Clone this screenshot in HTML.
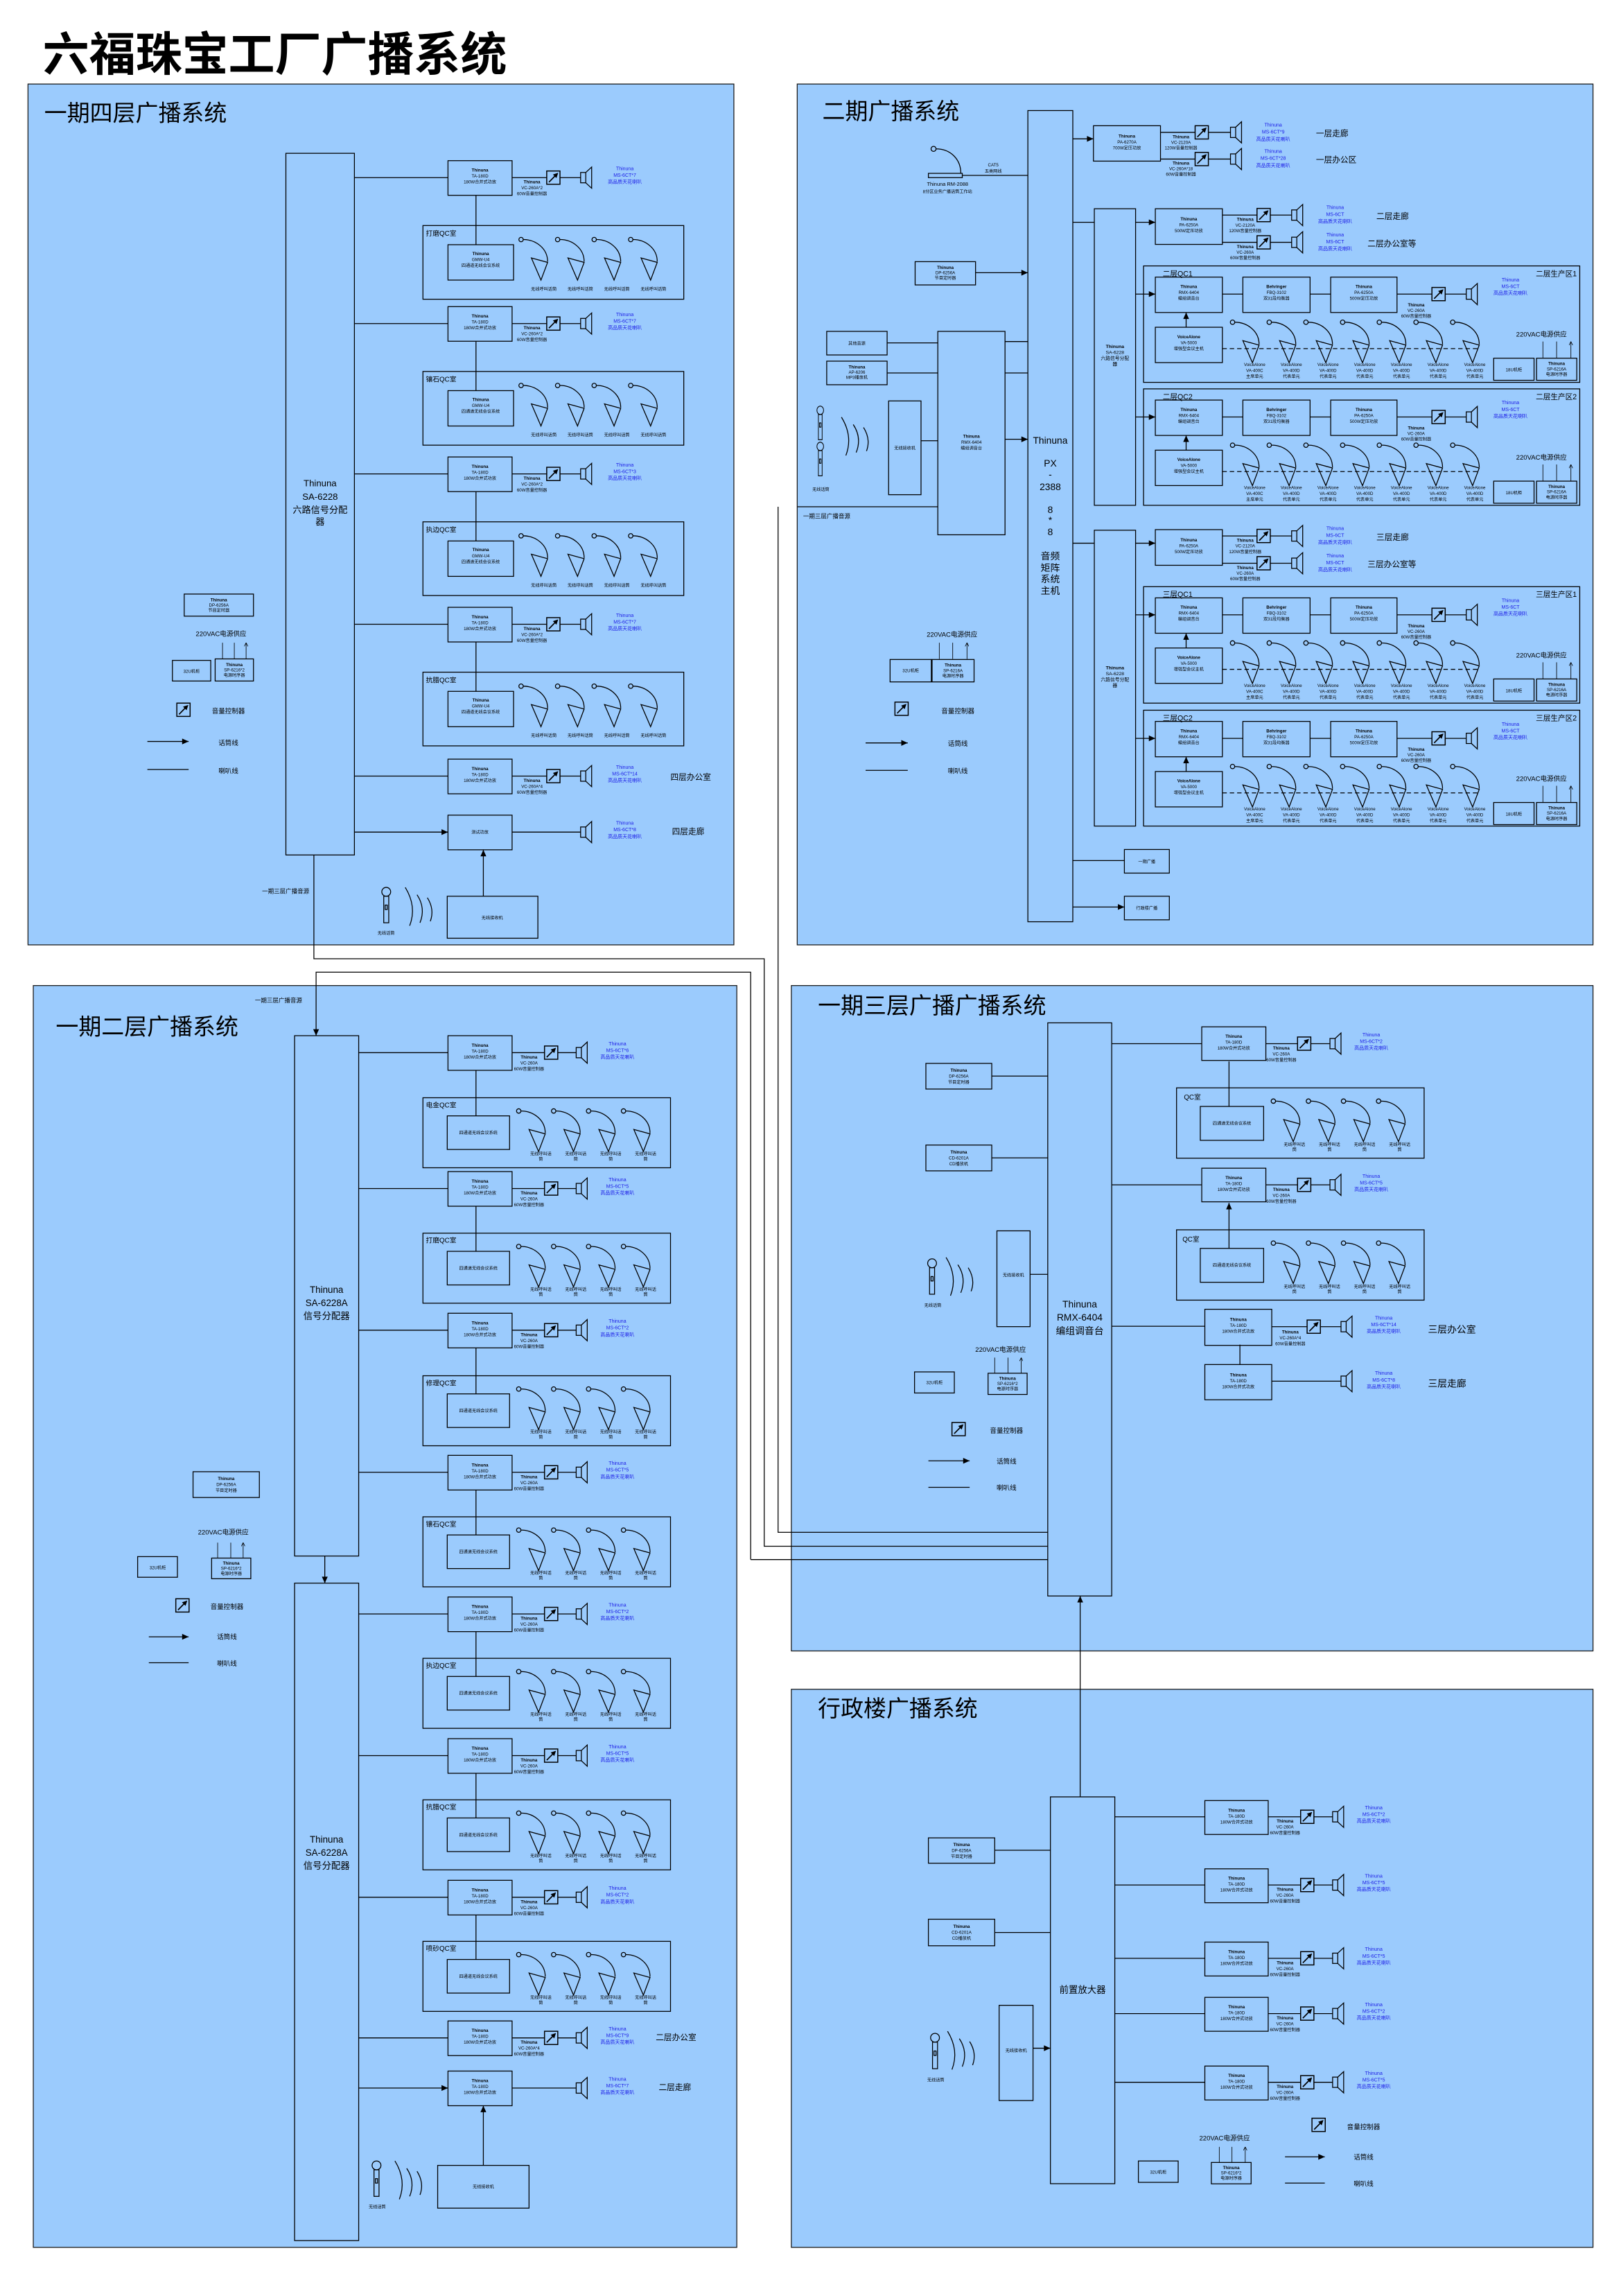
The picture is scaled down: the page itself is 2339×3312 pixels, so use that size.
<!DOCTYPE html>
<html><head><meta charset="utf-8">
<style>
html,body{margin:0;padding:0;background:#fff}
svg{display:block}
svg text{font-family:"Liberation Sans","Noto Sans CJK SC",sans-serif;text-anchor:middle;fill:#000}
.s{font-size:2.9px}
.bl{font-size:3.3px;fill:#1c1ce6}
.k{font-weight:bold}
.st{text-anchor:start}
.en{text-anchor:end}
.r{font-size:4.6px;text-anchor:start}
.lg{font-size:4.5px}
.zn{font-size:5.5px;text-anchor:start}
.pt{font-size:15.5px;text-anchor:start}
.b{fill:none;stroke:#000;stroke-width:.6}
.l{fill:none;stroke:#000;stroke-width:.6}
.ar{fill:none;stroke:#000;stroke-width:.6;marker-end:url(#a)}
.ar2{fill:none;stroke:#000;stroke-width:.4;marker-end:url(#a2)}
.p{fill:#9bcbfd;stroke:#1a1a1a;stroke-width:.6}
</style></head><body>
<svg width="2339" height="3312" viewBox="0 0 1100 1557.6" preserveAspectRatio="none" xmlns="http://www.w3.org/2000/svg">
<defs>
<marker id="a" viewBox="0 0 10 10" refX="10" refY="5" markerWidth="5" markerHeight="4.4" markerUnits="userSpaceOnUse" orient="auto"><path d="M0,0.5L10,5L0,9.5z"/></marker>
<marker id="a2" viewBox="0 0 10 10" refX="10" refY="5" markerWidth="2.5" markerHeight="2.5" markerUnits="userSpaceOnUse" orient="auto"><path d="M0,0L10,5L0,10" fill="none" stroke="#000" stroke-width="1.5"/></marker>
<g id="vc"><rect width="9" height="9" fill="none" stroke="#000" stroke-width=".7"/><path d="M1.5,7.6L6,3" stroke="#000" stroke-width=".8"/><path d="M7.8,1.2L4.2,2.4L6.6,4.8z"/></g>
<g id="spk" fill="none" stroke="#000" stroke-width=".6"><rect x="0" y="-3.5" width="3.5" height="7"/><path d="M3.5,-3.5L7.5,-7.2V7.2L3.5,3.5"/></g>
<g id="m" fill="none" stroke="#000" stroke-width=".6"><circle cx="0" cy="0" r="1.5"/><path d="M1.5,0C10,0 18,6 18,15"/><path d="M7,12.5L18,15.5L13.5,27.5z"/></g>
<g id="hm" fill="none" stroke="#000" stroke-width=".6"><circle cx="3.5" cy="3" r="3"/><rect x="1.8" y="6" width="3.4" height="18"/><rect x="2.8" y="12" width="1.4" height="3"/></g>
<g id="wv" fill="none" stroke="#000" stroke-width=".6"><path d="M0,0Q8,13 3,26"/><path d="M8,5Q14,14 10,24"/><path d="M15,7Q20,15 17,23"/></g>
</defs>

<text x="29" y="48" style="font-size:31.5px;text-anchor:start;font-weight:bold">六福珠宝工厂广播系统</text>

<!-- panels -->
<rect class="p" x="19" y="57" width="479" height="584"/>
<rect class="p" x="541" y="57" width="540" height="584"/>
<rect class="p" x="22.6" y="668.6" width="477.4" height="856"/>
<rect class="p" x="537" y="668.6" width="544" height="451.4"/>
<rect class="p" x="537" y="1146" width="544" height="378.6"/>

<!-- inter-panel lines -->
<path class="l" d="M213,580V650.4H518.6V1049H711"/>
<path class="l" d="M509.4,1058V659.5H214.5V702.6" style="marker-end:url(#a)"/>
<path class="l" d="M509.4,1058H711"/>
<path class="l" d="M528,343.8V1039.5H711"/>
<path class="ar" d="M733,1219V1082.7"/>

<!-- ================= PANEL 1 ================= -->
<text x="30" y="82" class="pt">一期四层广播系统</text>
<rect class="b" x="194" y="104" width="46.5" height="476"/>
<text x="217.2" y="330" style="font-size:6.2px">Thinuna</text>
<text x="217.2" y="339" style="font-size:6.2px">SA-6228</text>
<text x="217.2" y="348" style="font-size:6.2px">六路信号分配</text>
<text x="217.2" y="356" style="font-size:6.2px">器</text>

<path class="ar" d="M240.5,120.5H304M240.5,219.5H304M240.5,321.5H304M240.5,423.5H304M240.5,526.5H304M240.5,564.5H304"/>

<g transform="translate(304,109)"><rect class="b" width="43.5" height="23.5"/><text x="21.7" y="7.5" class="s k">Thinuna</text><text x="21.7" y="11.5" class="s">TA-180D</text><text x="21.7" y="15.5" class="s">180W合并式功放</text><path class="l" d="M43.5,11.5H67M76,11.5H90"/><use href="#vc" x="67" y="7"/><use href="#spk" x="90" y="11.5"/><text x="57" y="15.5" class="s k">Thinuna</text><text x="57" y="19.5" class="s">VC-260A*2</text><text x="57" y="23.5" class="s">60W音量控制器</text><text x="120" y="6.5" class="bl">Thinuna</text><text x="120" y="11" class="bl">MS-6CT*7</text><text x="120" y="15.5" class="bl">高品质天花喇叭</text></g>
<g transform="translate(304,208)"><rect class="b" width="43.5" height="23.5"/><text x="21.7" y="7.5" class="s k">Thinuna</text><text x="21.7" y="11.5" class="s">TA-180D</text><text x="21.7" y="15.5" class="s">180W合并式功放</text><path class="l" d="M43.5,11.5H67M76,11.5H90"/><use href="#vc" x="67" y="7"/><use href="#spk" x="90" y="11.5"/><text x="57" y="15.5" class="s k">Thinuna</text><text x="57" y="19.5" class="s">VC-260A*2</text><text x="57" y="23.5" class="s">60W音量控制器</text><text x="120" y="6.5" class="bl">Thinuna</text><text x="120" y="11" class="bl">MS-6CT*7</text><text x="120" y="15.5" class="bl">高品质天花喇叭</text></g>
<g transform="translate(304,310)"><rect class="b" width="43.5" height="23.5"/><text x="21.7" y="7.5" class="s k">Thinuna</text><text x="21.7" y="11.5" class="s">TA-180D</text><text x="21.7" y="15.5" class="s">180W合并式功放</text><path class="l" d="M43.5,11.5H67M76,11.5H90"/><use href="#vc" x="67" y="7"/><use href="#spk" x="90" y="11.5"/><text x="57" y="15.5" class="s k">Thinuna</text><text x="57" y="19.5" class="s">VC-260A*2</text><text x="57" y="23.5" class="s">60W音量控制器</text><text x="120" y="6.5" class="bl">Thinuna</text><text x="120" y="11" class="bl">MS-6CT*3</text><text x="120" y="15.5" class="bl">高品质天花喇叭</text></g>
<g transform="translate(304,412)"><rect class="b" width="43.5" height="23.5"/><text x="21.7" y="7.5" class="s k">Thinuna</text><text x="21.7" y="11.5" class="s">TA-180D</text><text x="21.7" y="15.5" class="s">180W合并式功放</text><path class="l" d="M43.5,11.5H67M76,11.5H90"/><use href="#vc" x="67" y="7"/><use href="#spk" x="90" y="11.5"/><text x="57" y="15.5" class="s k">Thinuna</text><text x="57" y="19.5" class="s">VC-260A*2</text><text x="57" y="23.5" class="s">60W音量控制器</text><text x="120" y="6.5" class="bl">Thinuna</text><text x="120" y="11" class="bl">MS-6CT*7</text><text x="120" y="15.5" class="bl">高品质天花喇叭</text></g>
<g transform="translate(304,515)"><rect class="b" width="43.5" height="23.5"/><text x="21.7" y="7.5" class="s k">Thinuna</text><text x="21.7" y="11.5" class="s">TA-180D</text><text x="21.7" y="15.5" class="s">180W合并式功放</text><path class="l" d="M43.5,11.5H67M76,11.5H90"/><use href="#vc" x="67" y="7"/><use href="#spk" x="90" y="11.5"/><text x="57" y="15.5" class="s k">Thinuna</text><text x="57" y="19.5" class="s">VC-260A*4</text><text x="57" y="23.5" class="s">60W音量控制器</text><text x="120" y="6.5" class="bl">Thinuna</text><text x="120" y="11" class="bl">MS-6CT*14</text><text x="120" y="15.5" class="bl">高品质天花喇叭</text><text x="151" y="14" class="zn">四层办公室</text></g>
<g transform="translate(304,553)"><rect class="b" width="43.5" height="23.5"/><text x="21.7" y="12.5" class="s">测试功放</text><path class="l" d="M43.5,11.5H90"/><use href="#spk" x="90" y="11.5"/><text x="120" y="6.5" class="bl">Thinuna</text><text x="120" y="11" class="bl">MS-6CT*8</text><text x="120" y="15.5" class="bl">高品质天花喇叭</text><text x="152" y="13" class="zn">四层走廊</text></g>

<g transform="translate(287,153)"><rect class="b" width="177" height="50"/><text x="2" y="7" class="r">打磨QC室</text><rect class="b" x="17" y="13" width="44.5" height="24"/><text x="39.2" y="20" class="s k">Thinuna</text><text x="39.2" y="24" class="s">GMW-U4</text><text x="39.2" y="28" class="s">四通道无线会议系统</text><use href="#m" x="66.6" y="9.5"/><use href="#m" x="91.4" y="9.5"/><use href="#m" x="116.2" y="9.5"/><use href="#m" x="141" y="9.5"/><text x="82" y="44" class="s">无线呼叫话筒</text><text x="106.8" y="44" class="s">无线呼叫话筒</text><text x="131.6" y="44" class="s">无线呼叫话筒</text><text x="156.4" y="44" class="s">无线呼叫话筒</text></g>
<g transform="translate(287,252)"><rect class="b" width="177" height="50"/><text x="2" y="7" class="r">镶石QC室</text><rect class="b" x="17" y="13" width="44.5" height="24"/><text x="39.2" y="20" class="s k">Thinuna</text><text x="39.2" y="24" class="s">GMW-U4</text><text x="39.2" y="28" class="s">四通道无线会议系统</text><use href="#m" x="66.6" y="9.5"/><use href="#m" x="91.4" y="9.5"/><use href="#m" x="116.2" y="9.5"/><use href="#m" x="141" y="9.5"/><text x="82" y="44" class="s">无线呼叫话筒</text><text x="106.8" y="44" class="s">无线呼叫话筒</text><text x="131.6" y="44" class="s">无线呼叫话筒</text><text x="156.4" y="44" class="s">无线呼叫话筒</text></g>
<g transform="translate(287,354)"><rect class="b" width="177" height="50"/><text x="2" y="7" class="r">执边QC室</text><rect class="b" x="17" y="13" width="44.5" height="24"/><text x="39.2" y="20" class="s k">Thinuna</text><text x="39.2" y="24" class="s">GMW-U4</text><text x="39.2" y="28" class="s">四通道无线会议系统</text><use href="#m" x="66.6" y="9.5"/><use href="#m" x="91.4" y="9.5"/><use href="#m" x="116.2" y="9.5"/><use href="#m" x="141" y="9.5"/><text x="82" y="44" class="s">无线呼叫话筒</text><text x="106.8" y="44" class="s">无线呼叫话筒</text><text x="131.6" y="44" class="s">无线呼叫话筒</text><text x="156.4" y="44" class="s">无线呼叫话筒</text></g>
<g transform="translate(287,456)"><rect class="b" width="177" height="50"/><text x="2" y="7" class="r">抗腊QC室</text><rect class="b" x="17" y="13" width="44.5" height="24"/><text x="39.2" y="20" class="s k">Thinuna</text><text x="39.2" y="24" class="s">GMW-U4</text><text x="39.2" y="28" class="s">四通道无线会议系统</text><use href="#m" x="66.6" y="9.5"/><use href="#m" x="91.4" y="9.5"/><use href="#m" x="116.2" y="9.5"/><use href="#m" x="141" y="9.5"/><text x="82" y="44" class="s">无线呼叫话筒</text><text x="106.8" y="44" class="s">无线呼叫话筒</text><text x="131.6" y="44" class="s">无线呼叫话筒</text><text x="156.4" y="44" class="s">无线呼叫话筒</text></g>
<path class="ar" d="M323,166V132.5M323,265V231.5M323,367V333.5M323,469V435.5M328,608V576.5"/>

<rect class="b" x="303.5" y="608" width="61.5" height="28.5"/><text x="334" y="623.5" class="s">无线接收机</text>
<use href="#hm" x="258.6" y="602"/><use href="#wv" x="275" y="602"/>
<text x="262" y="634" class="s">无线话筒</text>
<text x="209.8" y="606" class="lg en" style="font-size:4px">一期三层广播音源</text>

<rect class="b" x="125" y="403" width="47" height="15"/><text x="148.5" y="408" class="s k">Thinuna</text><text x="148.5" y="411.5" class="s">DP-6256A</text><text x="148.5" y="415" class="s">节目定时器</text>
<text x="150" y="431.5" class="lg">220VAC电源供应</text>
<path class="ar2" d="M151,447V436M159,447V436M167,447V436"/>
<rect class="b" x="117" y="448" width="26" height="14"/><text x="130" y="456.5" class="s">32U机柜</text>
<rect class="b" x="146" y="447" width="26" height="15"/><text x="159" y="452" class="s k">Thinuna</text><text x="159" y="455.5" class="s">SP-6216*2</text><text x="159" y="459" class="s">电源时序器</text>
<use href="#vc" x="120" y="477"/><text x="155" y="484" class="lg">音量控制器</text>
<path class="ar" d="M100,503H128"/><text x="155" y="505.5" class="lg">话筒线</text>
<path class="l" d="M100,522H128"/><text x="155" y="524.5" class="lg">喇叭线</text>

<!-- ================= PANEL 2 ================= -->
<text x="558" y="81" class="pt">二期广播系统</text>
<rect class="b" x="697.5" y="75" width="30.5" height="550.3"/>
<g style="font-size:6.5px"><text x="712.7" y="301">Thinuna</text><text x="712.7" y="316.5">PX</text><text x="712.7" y="324">-</text><text x="712.7" y="332.5">2388</text><text x="712.7" y="348">8</text><text x="712.7" y="355">*</text><text x="712.7" y="363">8</text><text x="712.7" y="379.5">音频</text><text x="712.7" y="387.5">矩阵</text><text x="712.7" y="395">系统</text><text x="712.7" y="403">主机</text></g>

<rect class="b" x="630" y="117.6" width="23" height="2.9"/>
<circle cx="633.5" cy="101" r="1.7" fill="none" stroke="#000" stroke-width=".6"/><path class="l" d="M635.2,101C645,101 652,108 652,117.6"/>
<text x="643" y="126" style="font-size:3.5px">Thinuna RM-2088</text><text x="643" y="131" class="s">8分区业务广播话筒工作站</text>
<text x="674" y="112.8" class="s">CAT5</text><text x="674" y="117" class="s">五类网线</text>
<path class="l" d="M653,119H697.5"/>

<rect class="b" x="621" y="177.5" width="41" height="15.8"/><text x="641.5" y="182.5" class="s k">Thinuna</text><text x="641.5" y="186" class="s">DP-6256A</text><text x="641.5" y="189.5" class="s">节目定时器</text>
<path class="ar" d="M662,185H697.5"/>
<rect class="b" x="561" y="224.8" width="41" height="16"/><text x="581.5" y="234" class="s">其他音源</text>
<rect class="b" x="561" y="245" width="41" height="16"/><text x="581.5" y="250" class="s k">Thinuna</text><text x="581.5" y="253.5" class="s">AP-6206</text><text x="581.5" y="257" class="s">MP3播放机</text>
<path class="ar" d="M602,232.6H636.4M602,253H636.4M625,299H636.4M541,343.8H636.4M682,231.7H697.5M682,253H697.5M682,298H697.5"/>
<rect class="b" x="636.4" y="224.8" width="45.6" height="138"/><text x="659.2" y="297" class="s k">Thinuna</text><text x="659.2" y="301" class="s">RMX-6404</text><text x="659.2" y="305" class="s">编组调音台</text>
<rect class="b" x="603" y="272" width="22" height="63.6"/><text x="614" y="305" class="s">无线接收机</text>
<use href="#hm" x="554" y="275.5" transform="translate(554,275.5) scale(.75,.95) translate(-554,-275.5)"/>
<use href="#hm" x="554" y="300" transform="translate(554,300) scale(.75,.95) translate(-554,-300)"/>
<use href="#wv" x="571" y="283"/>
<text x="557" y="333" class="s">无线话筒</text>
<text x="545" y="351.5" class="st" style="font-size:4px">一期三层广播音源</text>

<path class="ar" d="M728,94.2H742"/>
<g transform="translate(742,85.3)"><rect class="b" width="45.5" height="24"/><text x="22.7" y="8" class="s k">Thinuna</text><text x="22.7" y="12" class="s">PA-6270A</text><text x="22.7" y="16" class="s">700W定压功放</text><path class="l" d="M45.5,4.5H69M78,4.5H93M45.5,22.6H69M78,22.6H93"/><use href="#vc" x="69" y="0"/><use href="#vc" x="69" y="18.1"/><use href="#spk" x="93" y="4.5"/><use href="#spk" x="93" y="22.6"/><text x="59.4" y="8.5" class="s k">Thinuna</text><text x="59.4" y="12.3" class="s">VC-2120A</text><text x="59.4" y="16.1" class="s">120W音量控制器</text><text x="59.4" y="26.3" class="s k">Thinuna</text><text x="59.4" y="30.1" class="s">VC-260A*18</text><text x="59.4" y="33.9" class="s">60W音量控制器</text><text x="122" y="0.5" class="bl">Thinuna</text><text x="122" y="5.3" class="bl">MS-6CT*9</text><text x="122" y="10.1" class="bl">高品质天花喇叭</text><text x="122" y="18.4" class="bl">Thinuna</text><text x="122" y="23.2" class="bl">MS-6CT*28</text><text x="122" y="28" class="bl">高品质天花喇叭</text><text x="151" y="7" class="zn">一层走廊</text><text x="151" y="25" class="zn">一层办公区</text></g>

<path class="ar" d="M728,150.8H742.6M728,368.5H742.6M728,583.8H763M728,615.3H763"/>
<rect class="b" x="742.6" y="141.6" width="28" height="201.2"/>
<text x="756.6" y="236" style="font-size:3.2px" class="k">Thinuna</text><text x="756.6" y="240" style="font-size:3.2px">SA-6228</text><text x="756.6" y="244" style="font-size:3.2px">六路信号分配</text><text x="756.6" y="248" style="font-size:3.2px">器</text>
<rect class="b" x="742.6" y="359.7" width="28" height="200.7"/>
<text x="756.6" y="454" style="font-size:3.2px" class="k">Thinuna</text><text x="756.6" y="458" style="font-size:3.2px">SA-6228</text><text x="756.6" y="462" style="font-size:3.2px">六路信号分配</text><text x="756.6" y="466" style="font-size:3.2px">器</text>

<g transform="translate(784,141.6)"><path class="ar" d="M-13.5,9.2H0"/><rect class="b" width="45.5" height="24.2"/><text x="22.7" y="8" class="s k">Thinuna</text><text x="22.7" y="12" class="s">PA-6250A</text><text x="22.7" y="16" class="s">500W定压功放</text><path class="l" d="M45.5,4.3H69M78,4.3H92.5M45.5,22.8H69M78,22.8H92.5"/><use href="#vc" x="69" y="-0.2"/><use href="#vc" x="69" y="18.3"/><use href="#spk" x="92.5" y="4.3"/><use href="#spk" x="92.5" y="22.8"/><text x="61" y="8.3" class="s k">Thinuna</text><text x="61" y="12.1" class="s">VC-2120A</text><text x="61" y="15.9" class="s">120W音量控制器</text><text x="61" y="26.8" class="s k">Thinuna</text><text x="61" y="30.6" class="s">VC-260A</text><text x="61" y="34.4" class="s">60W音量控制器</text><text x="122" y="0.3" class="bl">Thinuna</text><text x="122" y="5" class="bl">MS-6CT</text><text x="122" y="9.7" class="bl">高品质天花喇叭</text><text x="122" y="18.8" class="bl">Thinuna</text><text x="122" y="23.5" class="bl">MS-6CT</text><text x="122" y="28.2" class="bl">高品质天花喇叭</text><text x="150" y="7" class="zn">二层走廊</text><text x="144" y="25.5" class="zn">二层办公室等</text></g>
<g transform="translate(784,359.3)"><path class="ar" d="M-13.5,9.2H0"/><rect class="b" width="45.5" height="24.2"/><text x="22.7" y="8" class="s k">Thinuna</text><text x="22.7" y="12" class="s">PA-6250A</text><text x="22.7" y="16" class="s">500W定压功放</text><path class="l" d="M45.5,4.3H69M78,4.3H92.5M45.5,22.8H69M78,22.8H92.5"/><use href="#vc" x="69" y="-0.2"/><use href="#vc" x="69" y="18.3"/><use href="#spk" x="92.5" y="4.3"/><use href="#spk" x="92.5" y="22.8"/><text x="61" y="8.3" class="s k">Thinuna</text><text x="61" y="12.1" class="s">VC-2120A</text><text x="61" y="15.9" class="s">120W音量控制器</text><text x="61" y="26.8" class="s k">Thinuna</text><text x="61" y="30.6" class="s">VC-260A</text><text x="61" y="34.4" class="s">60W音量控制器</text><text x="122" y="0.3" class="bl">Thinuna</text><text x="122" y="5" class="bl">MS-6CT</text><text x="122" y="9.7" class="bl">高品质天花喇叭</text><text x="122" y="18.8" class="bl">Thinuna</text><text x="122" y="23.5" class="bl">MS-6CT</text><text x="122" y="28.2" class="bl">高品质天花喇叭</text><text x="150" y="7" class="zn">三层走廊</text><text x="144" y="25.5" class="zn">三层办公室等</text></g>

<!-- QC groups panel 2 -->
<g transform="translate(776,180.4)"><path class="ar" d="M-5.5,19.1H8"/><rect class="b" width="296" height="79"/><text x="13" y="7" class="st" style="font-size:5px">二层QC1</text><text x="294" y="7" class="en" style="font-size:5px">二层生产区1</text><rect class="b" x="8" y="7.6" width="45.5" height="24"/><text x="30.7" y="15" class="s k">Thinuna</text><text x="30.7" y="19" class="s">RMX-6404</text><text x="30.7" y="23" class="s">编组调音台</text><rect class="b" x="67.4" y="7.6" width="45.6" height="24"/><text x="90.2" y="15" class="s k">Behringer</text><text x="90.2" y="19" class="s">FBQ-3102</text><text x="90.2" y="23" class="s">双31段均衡器</text><rect class="b" x="127" y="7.6" width="45" height="24"/><text x="149.5" y="15" class="s k">Thinuna</text><text x="149.5" y="19" class="s">PA-6250A</text><text x="149.5" y="23" class="s">500W定压功放</text><path class="ar" d="M53.5,19.1H67.4M113,19.1H127M28.9,41.6V31.6"/><path class="l" d="M172,19.1H195.7M204.7,19.1H219"/><use href="#vc" x="195.7" y="14.6"/><use href="#spk" x="219" y="19.1"/><text x="185" y="27.5" class="s k">Thinuna</text><text x="185" y="31.3" class="s">VC-260A</text><text x="185" y="35.1" class="s">60W音量控制器</text><text x="249" y="10.5" class="bl">Thinuna</text><text x="249" y="15" class="bl">MS-6CT</text><text x="249" y="19.5" class="bl">高品质天花喇叭</text><rect class="b" x="8" y="41.6" width="45.5" height="24"/><text x="30.7" y="49" class="s k">VoiceAlone</text><text x="30.7" y="53" class="s">VA-5000</text><text x="30.7" y="57" class="s">增强型会议主机</text><path class="l" d="M53.5,56.1H228" stroke-dasharray="3,2"/><use href="#m" x="60.4" y="38.2"/><use href="#m" x="85.3" y="38.2"/><use href="#m" x="110.2" y="38.2"/><use href="#m" x="135.1" y="38.2"/><use href="#m" x="160" y="38.2"/><use href="#m" x="184.9" y="38.2"/><use href="#m" x="209.8" y="38.2"/><g class="s"><text x="75.4" y="68">VoiceAlone</text><text x="75.4" y="72">VA-400C</text><text x="75.4" y="76">主席单元</text><text x="100.3" y="68">VoiceAlone</text><text x="100.3" y="72">VA-400D</text><text x="100.3" y="76">代表单元</text><text x="125.2" y="68">VoiceAlone</text><text x="125.2" y="72">VA-400D</text><text x="125.2" y="76">代表单元</text><text x="150.1" y="68">VoiceAlone</text><text x="150.1" y="72">VA-400D</text><text x="150.1" y="76">代表单元</text><text x="175" y="68">VoiceAlone</text><text x="175" y="72">VA-400D</text><text x="175" y="76">代表单元</text><text x="199.9" y="68">VoiceAlone</text><text x="199.9" y="72">VA-400D</text><text x="199.9" y="76">代表单元</text><text x="224.8" y="68">VoiceAlone</text><text x="224.8" y="72">VA-400D</text><text x="224.8" y="76">代表单元</text></g><text x="270" y="48" class="lg">220VAC电源供应</text><path class="ar2" d="M271,62.6V51.3M280.3,62.6V51.3M290,62.6V51.3"/><rect class="b" x="237.6" y="62.6" width="27.4" height="15"/><text x="251.3" y="71.5" class="s">18U机柜</text><rect class="b" x="266.7" y="62.6" width="27.3" height="15"/><text x="280.3" y="67.3" class="s k">Thinuna</text><text x="280.3" y="70.9" class="s">SP-6216A</text><text x="280.3" y="74.5" class="s">电源时序器</text></g>
<g transform="translate(776,263.8)"><path class="ar" d="M-5.5,19.1H8"/><rect class="b" width="296" height="79"/><text x="13" y="7" class="st" style="font-size:5px">二层QC2</text><text x="294" y="7" class="en" style="font-size:5px">二层生产区2</text><rect class="b" x="8" y="7.6" width="45.5" height="24"/><text x="30.7" y="15" class="s k">Thinuna</text><text x="30.7" y="19" class="s">RMX-6404</text><text x="30.7" y="23" class="s">编组调音台</text><rect class="b" x="67.4" y="7.6" width="45.6" height="24"/><text x="90.2" y="15" class="s k">Behringer</text><text x="90.2" y="19" class="s">FBQ-3102</text><text x="90.2" y="23" class="s">双31段均衡器</text><rect class="b" x="127" y="7.6" width="45" height="24"/><text x="149.5" y="15" class="s k">Thinuna</text><text x="149.5" y="19" class="s">PA-6250A</text><text x="149.5" y="23" class="s">500W定压功放</text><path class="ar" d="M53.5,19.1H67.4M113,19.1H127M28.9,41.6V31.6"/><path class="l" d="M172,19.1H195.7M204.7,19.1H219"/><use href="#vc" x="195.7" y="14.6"/><use href="#spk" x="219" y="19.1"/><text x="185" y="27.5" class="s k">Thinuna</text><text x="185" y="31.3" class="s">VC-260A</text><text x="185" y="35.1" class="s">60W音量控制器</text><text x="249" y="10.5" class="bl">Thinuna</text><text x="249" y="15" class="bl">MS-6CT</text><text x="249" y="19.5" class="bl">高品质天花喇叭</text><rect class="b" x="8" y="41.6" width="45.5" height="24"/><text x="30.7" y="49" class="s k">VoiceAlone</text><text x="30.7" y="53" class="s">VA-5000</text><text x="30.7" y="57" class="s">增强型会议主机</text><path class="l" d="M53.5,56.1H228" stroke-dasharray="3,2"/><use href="#m" x="60.4" y="38.2"/><use href="#m" x="85.3" y="38.2"/><use href="#m" x="110.2" y="38.2"/><use href="#m" x="135.1" y="38.2"/><use href="#m" x="160" y="38.2"/><use href="#m" x="184.9" y="38.2"/><use href="#m" x="209.8" y="38.2"/><g class="s"><text x="75.4" y="68">VoiceAlone</text><text x="75.4" y="72">VA-400C</text><text x="75.4" y="76">主席单元</text><text x="100.3" y="68">VoiceAlone</text><text x="100.3" y="72">VA-400D</text><text x="100.3" y="76">代表单元</text><text x="125.2" y="68">VoiceAlone</text><text x="125.2" y="72">VA-400D</text><text x="125.2" y="76">代表单元</text><text x="150.1" y="68">VoiceAlone</text><text x="150.1" y="72">VA-400D</text><text x="150.1" y="76">代表单元</text><text x="175" y="68">VoiceAlone</text><text x="175" y="72">VA-400D</text><text x="175" y="76">代表单元</text><text x="199.9" y="68">VoiceAlone</text><text x="199.9" y="72">VA-400D</text><text x="199.9" y="76">代表单元</text><text x="224.8" y="68">VoiceAlone</text><text x="224.8" y="72">VA-400D</text><text x="224.8" y="76">代表单元</text></g><text x="270" y="48" class="lg">220VAC电源供应</text><path class="ar2" d="M271,62.6V51.3M280.3,62.6V51.3M290,62.6V51.3"/><rect class="b" x="237.6" y="62.6" width="27.4" height="15"/><text x="251.3" y="71.5" class="s">18U机柜</text><rect class="b" x="266.7" y="62.6" width="27.3" height="15"/><text x="280.3" y="67.3" class="s k">Thinuna</text><text x="280.3" y="70.9" class="s">SP-6216A</text><text x="280.3" y="74.5" class="s">电源时序器</text></g>
<g transform="translate(776,398)"><path class="ar" d="M-5.5,19.1H8"/><rect class="b" width="296" height="79"/><text x="13" y="7" class="st" style="font-size:5px">三层QC1</text><text x="294" y="7" class="en" style="font-size:5px">三层生产区1</text><rect class="b" x="8" y="7.6" width="45.5" height="24"/><text x="30.7" y="15" class="s k">Thinuna</text><text x="30.7" y="19" class="s">RMX-6404</text><text x="30.7" y="23" class="s">编组调音台</text><rect class="b" x="67.4" y="7.6" width="45.6" height="24"/><text x="90.2" y="15" class="s k">Behringer</text><text x="90.2" y="19" class="s">FBQ-3102</text><text x="90.2" y="23" class="s">双31段均衡器</text><rect class="b" x="127" y="7.6" width="45" height="24"/><text x="149.5" y="15" class="s k">Thinuna</text><text x="149.5" y="19" class="s">PA-6250A</text><text x="149.5" y="23" class="s">500W定压功放</text><path class="ar" d="M53.5,19.1H67.4M113,19.1H127M28.9,41.6V31.6"/><path class="l" d="M172,19.1H195.7M204.7,19.1H219"/><use href="#vc" x="195.7" y="14.6"/><use href="#spk" x="219" y="19.1"/><text x="185" y="27.5" class="s k">Thinuna</text><text x="185" y="31.3" class="s">VC-260A</text><text x="185" y="35.1" class="s">60W音量控制器</text><text x="249" y="10.5" class="bl">Thinuna</text><text x="249" y="15" class="bl">MS-6CT</text><text x="249" y="19.5" class="bl">高品质天花喇叭</text><rect class="b" x="8" y="41.6" width="45.5" height="24"/><text x="30.7" y="49" class="s k">VoiceAlone</text><text x="30.7" y="53" class="s">VA-5000</text><text x="30.7" y="57" class="s">增强型会议主机</text><path class="l" d="M53.5,56.1H228" stroke-dasharray="3,2"/><use href="#m" x="60.4" y="38.2"/><use href="#m" x="85.3" y="38.2"/><use href="#m" x="110.2" y="38.2"/><use href="#m" x="135.1" y="38.2"/><use href="#m" x="160" y="38.2"/><use href="#m" x="184.9" y="38.2"/><use href="#m" x="209.8" y="38.2"/><g class="s"><text x="75.4" y="68">VoiceAlone</text><text x="75.4" y="72">VA-400C</text><text x="75.4" y="76">主席单元</text><text x="100.3" y="68">VoiceAlone</text><text x="100.3" y="72">VA-400D</text><text x="100.3" y="76">代表单元</text><text x="125.2" y="68">VoiceAlone</text><text x="125.2" y="72">VA-400D</text><text x="125.2" y="76">代表单元</text><text x="150.1" y="68">VoiceAlone</text><text x="150.1" y="72">VA-400D</text><text x="150.1" y="76">代表单元</text><text x="175" y="68">VoiceAlone</text><text x="175" y="72">VA-400D</text><text x="175" y="76">代表单元</text><text x="199.9" y="68">VoiceAlone</text><text x="199.9" y="72">VA-400D</text><text x="199.9" y="76">代表单元</text><text x="224.8" y="68">VoiceAlone</text><text x="224.8" y="72">VA-400D</text><text x="224.8" y="76">代表单元</text></g><text x="270" y="48" class="lg">220VAC电源供应</text><path class="ar2" d="M271,62.6V51.3M280.3,62.6V51.3M290,62.6V51.3"/><rect class="b" x="237.6" y="62.6" width="27.4" height="15"/><text x="251.3" y="71.5" class="s">18U机柜</text><rect class="b" x="266.7" y="62.6" width="27.3" height="15"/><text x="280.3" y="67.3" class="s k">Thinuna</text><text x="280.3" y="70.9" class="s">SP-6216A</text><text x="280.3" y="74.5" class="s">电源时序器</text></g>
<g transform="translate(776,481.8)"><path class="ar" d="M-5.5,19.1H8"/><rect class="b" width="296" height="78.6"/><text x="13" y="7" class="st" style="font-size:5px">三层QC2</text><text x="294" y="7" class="en" style="font-size:5px">三层生产区2</text><rect class="b" x="8" y="7.6" width="45.5" height="24"/><text x="30.7" y="15" class="s k">Thinuna</text><text x="30.7" y="19" class="s">RMX-6404</text><text x="30.7" y="23" class="s">编组调音台</text><rect class="b" x="67.4" y="7.6" width="45.6" height="24"/><text x="90.2" y="15" class="s k">Behringer</text><text x="90.2" y="19" class="s">FBQ-3102</text><text x="90.2" y="23" class="s">双31段均衡器</text><rect class="b" x="127" y="7.6" width="45" height="24"/><text x="149.5" y="15" class="s k">Thinuna</text><text x="149.5" y="19" class="s">PA-6250A</text><text x="149.5" y="23" class="s">500W定压功放</text><path class="ar" d="M53.5,19.1H67.4M113,19.1H127M28.9,41.6V31.6"/><path class="l" d="M172,19.1H195.7M204.7,19.1H219"/><use href="#vc" x="195.7" y="14.6"/><use href="#spk" x="219" y="19.1"/><text x="185" y="27.5" class="s k">Thinuna</text><text x="185" y="31.3" class="s">VC-260A</text><text x="185" y="35.1" class="s">60W音量控制器</text><text x="249" y="10.5" class="bl">Thinuna</text><text x="249" y="15" class="bl">MS-6CT</text><text x="249" y="19.5" class="bl">高品质天花喇叭</text><rect class="b" x="8" y="41.6" width="45.5" height="24"/><text x="30.7" y="49" class="s k">VoiceAlone</text><text x="30.7" y="53" class="s">VA-5000</text><text x="30.7" y="57" class="s">增强型会议主机</text><path class="l" d="M53.5,56.1H228" stroke-dasharray="3,2"/><use href="#m" x="60.4" y="38.2"/><use href="#m" x="85.3" y="38.2"/><use href="#m" x="110.2" y="38.2"/><use href="#m" x="135.1" y="38.2"/><use href="#m" x="160" y="38.2"/><use href="#m" x="184.9" y="38.2"/><use href="#m" x="209.8" y="38.2"/><g class="s"><text x="75.4" y="68">VoiceAlone</text><text x="75.4" y="72">VA-400C</text><text x="75.4" y="76">主席单元</text><text x="100.3" y="68">VoiceAlone</text><text x="100.3" y="72">VA-400D</text><text x="100.3" y="76">代表单元</text><text x="125.2" y="68">VoiceAlone</text><text x="125.2" y="72">VA-400D</text><text x="125.2" y="76">代表单元</text><text x="150.1" y="68">VoiceAlone</text><text x="150.1" y="72">VA-400D</text><text x="150.1" y="76">代表单元</text><text x="175" y="68">VoiceAlone</text><text x="175" y="72">VA-400D</text><text x="175" y="76">代表单元</text><text x="199.9" y="68">VoiceAlone</text><text x="199.9" y="72">VA-400D</text><text x="199.9" y="76">代表单元</text><text x="224.8" y="68">VoiceAlone</text><text x="224.8" y="72">VA-400D</text><text x="224.8" y="76">代表单元</text></g><text x="270" y="48" class="lg">220VAC电源供应</text><path class="ar2" d="M271,62.6V51.3M280.3,62.6V51.3M290,62.6V51.3"/><rect class="b" x="237.6" y="62.6" width="27.4" height="15"/><text x="251.3" y="71.5" class="s">18U机柜</text><rect class="b" x="266.7" y="62.6" width="27.3" height="15"/><text x="280.3" y="67.3" class="s k">Thinuna</text><text x="280.3" y="70.9" class="s">SP-6216A</text><text x="280.3" y="74.5" class="s">电源时序器</text></g>

<rect class="b" x="763" y="576.3" width="30.5" height="16"/><text x="778.2" y="585.5" class="s">一期广播</text>
<rect class="b" x="763" y="608" width="30.5" height="16"/><text x="778.2" y="617" class="s">行政楼广播</text>

<text x="646" y="432" class="lg">220VAC电源供应</text>
<path class="ar2" d="M637.4,447V436M646.5,447V436M656.2,447V436"/>
<rect class="b" x="604" y="447.4" width="28" height="15.2"/><text x="618" y="456" class="s">32U机柜</text>
<rect class="b" x="632.5" y="447.4" width="28.5" height="15.2"/><text x="646.7" y="452.3" class="s k">Thinuna</text><text x="646.7" y="455.9" class="s">SP-6216A</text><text x="646.7" y="459.5" class="s">电源时序器</text>
<use href="#vc" x="607.3" y="476.3"/><text x="650" y="484" class="lg">音量控制器</text>
<path class="ar" d="M587.4,504H616"/><text x="650" y="506" class="lg">话筒线</text>
<path class="l" d="M587.4,522.6H616"/><text x="650" y="524.5" class="lg">喇叭线</text>

<!-- ================= PANEL 3 ================= -->
<text x="37.8" y="702" class="pt">一期二层广播系统</text>
<text x="205" y="680" class="en" style="font-size:4px">一期三层广播音源</text>
<rect class="b" x="199.9" y="702.6" width="43.5" height="353"/>
<text x="221.6" y="877" style="font-size:6.3px">Thinuna</text><text x="221.6" y="886" style="font-size:6.3px">SA-6228A</text><text x="221.6" y="895" style="font-size:6.3px">信号分配器</text>
<rect class="b" x="199.9" y="1074" width="43.5" height="446"/>
<text x="221.6" y="1250" style="font-size:6.3px">Thinuna</text><text x="221.6" y="1259" style="font-size:6.3px">SA-6228A</text><text x="221.6" y="1268" style="font-size:6.3px">信号分配器</text>
<path class="ar" d="M220.4,1055.5V1074"/>
<path class="ar" d="M243.4,714.1H304M243.4,806.3H304M243.4,902.4H304M243.4,998.8H304M243.4,1094.9H304M243.4,1191H304M243.4,1287.1H304M243.4,1382.5H304M243.4,1416.5H304"/>

<g transform="translate(304,702.6)"><rect class="b" width="43.5" height="23.5"/><text x="21.7" y="7.5" class="s k">Thinuna</text><text x="21.7" y="11.5" class="s">TA-180D</text><text x="21.7" y="15.5" class="s">180W合并式功放</text><path class="l" d="M43.5,11.5H65.5M74.5,11.5H87"/><use href="#vc" x="65.5" y="7"/><use href="#spk" x="87" y="11.5"/><text x="55" y="15.5" class="s k">Thinuna</text><text x="55" y="19.5" class="s">VC-260A</text><text x="55" y="23.5" class="s">60W音量控制器</text><text x="115" y="6.5" class="bl">Thinuna</text><text x="115" y="11" class="bl">MS-6CT*6</text><text x="115" y="15.5" class="bl">高品质天花喇叭</text></g>
<g transform="translate(304,794.8)"><rect class="b" width="43.5" height="23.5"/><text x="21.7" y="7.5" class="s k">Thinuna</text><text x="21.7" y="11.5" class="s">TA-180D</text><text x="21.7" y="15.5" class="s">180W合并式功放</text><path class="l" d="M43.5,11.5H65.5M74.5,11.5H87"/><use href="#vc" x="65.5" y="7"/><use href="#spk" x="87" y="11.5"/><text x="55" y="15.5" class="s k">Thinuna</text><text x="55" y="19.5" class="s">VC-260A</text><text x="55" y="23.5" class="s">60W音量控制器</text><text x="115" y="6.5" class="bl">Thinuna</text><text x="115" y="11" class="bl">MS-6CT*5</text><text x="115" y="15.5" class="bl">高品质天花喇叭</text></g>
<g transform="translate(304,890.9)"><rect class="b" width="43.5" height="23.5"/><text x="21.7" y="7.5" class="s k">Thinuna</text><text x="21.7" y="11.5" class="s">TA-180D</text><text x="21.7" y="15.5" class="s">180W合并式功放</text><path class="l" d="M43.5,11.5H65.5M74.5,11.5H87"/><use href="#vc" x="65.5" y="7"/><use href="#spk" x="87" y="11.5"/><text x="55" y="15.5" class="s k">Thinuna</text><text x="55" y="19.5" class="s">VC-260A</text><text x="55" y="23.5" class="s">60W音量控制器</text><text x="115" y="6.5" class="bl">Thinuna</text><text x="115" y="11" class="bl">MS-6CT*2</text><text x="115" y="15.5" class="bl">高品质天花喇叭</text></g>
<g transform="translate(304,987.3)"><rect class="b" width="43.5" height="23.5"/><text x="21.7" y="7.5" class="s k">Thinuna</text><text x="21.7" y="11.5" class="s">TA-180D</text><text x="21.7" y="15.5" class="s">180W合并式功放</text><path class="l" d="M43.5,11.5H65.5M74.5,11.5H87"/><use href="#vc" x="65.5" y="7"/><use href="#spk" x="87" y="11.5"/><text x="55" y="15.5" class="s k">Thinuna</text><text x="55" y="19.5" class="s">VC-260A</text><text x="55" y="23.5" class="s">60W音量控制器</text><text x="115" y="6.5" class="bl">Thinuna</text><text x="115" y="11" class="bl">MS-6CT*5</text><text x="115" y="15.5" class="bl">高品质天花喇叭</text></g>
<g transform="translate(304,1083.4)"><rect class="b" width="43.5" height="23.5"/><text x="21.7" y="7.5" class="s k">Thinuna</text><text x="21.7" y="11.5" class="s">TA-180D</text><text x="21.7" y="15.5" class="s">180W合并式功放</text><path class="l" d="M43.5,11.5H65.5M74.5,11.5H87"/><use href="#vc" x="65.5" y="7"/><use href="#spk" x="87" y="11.5"/><text x="55" y="15.5" class="s k">Thinuna</text><text x="55" y="19.5" class="s">VC-260A</text><text x="55" y="23.5" class="s">60W音量控制器</text><text x="115" y="6.5" class="bl">Thinuna</text><text x="115" y="11" class="bl">MS-6CT*2</text><text x="115" y="15.5" class="bl">高品质天花喇叭</text></g>
<g transform="translate(304,1179.5)"><rect class="b" width="43.5" height="23.5"/><text x="21.7" y="7.5" class="s k">Thinuna</text><text x="21.7" y="11.5" class="s">TA-180D</text><text x="21.7" y="15.5" class="s">180W合并式功放</text><path class="l" d="M43.5,11.5H65.5M74.5,11.5H87"/><use href="#vc" x="65.5" y="7"/><use href="#spk" x="87" y="11.5"/><text x="55" y="15.5" class="s k">Thinuna</text><text x="55" y="19.5" class="s">VC-260A</text><text x="55" y="23.5" class="s">60W音量控制器</text><text x="115" y="6.5" class="bl">Thinuna</text><text x="115" y="11" class="bl">MS-6CT*5</text><text x="115" y="15.5" class="bl">高品质天花喇叭</text></g>
<g transform="translate(304,1275.6)"><rect class="b" width="43.5" height="23.5"/><text x="21.7" y="7.5" class="s k">Thinuna</text><text x="21.7" y="11.5" class="s">TA-180D</text><text x="21.7" y="15.5" class="s">180W合并式功放</text><path class="l" d="M43.5,11.5H65.5M74.5,11.5H87"/><use href="#vc" x="65.5" y="7"/><use href="#spk" x="87" y="11.5"/><text x="55" y="15.5" class="s k">Thinuna</text><text x="55" y="19.5" class="s">VC-260A</text><text x="55" y="23.5" class="s">60W音量控制器</text><text x="115" y="6.5" class="bl">Thinuna</text><text x="115" y="11" class="bl">MS-6CT*2</text><text x="115" y="15.5" class="bl">高品质天花喇叭</text></g>
<g transform="translate(304,1371)"><rect class="b" width="43.5" height="23.5"/><text x="21.7" y="7.5" class="s k">Thinuna</text><text x="21.7" y="11.5" class="s">TA-180D</text><text x="21.7" y="15.5" class="s">180W合并式功放</text><path class="l" d="M43.5,11.5H65.5M74.5,11.5H87"/><use href="#vc" x="65.5" y="7"/><use href="#spk" x="87" y="11.5"/><text x="55" y="15.5" class="s k">Thinuna</text><text x="55" y="19.5" class="s">VC-260A*4</text><text x="55" y="23.5" class="s">60W音量控制器</text><text x="115" y="6.5" class="bl">Thinuna</text><text x="115" y="11" class="bl">MS-6CT*9</text><text x="115" y="15.5" class="bl">高品质天花喇叭</text><text x="141" y="13" class="zn">二层办公室</text></g>
<g transform="translate(304,1405)"><rect class="b" width="43.5" height="23.5"/><text x="21.7" y="7.5" class="s k">Thinuna</text><text x="21.7" y="11.5" class="s">TA-180D</text><text x="21.7" y="15.5" class="s">180W合并式功放</text><path class="l" d="M43.5,11.5H87"/><use href="#spk" x="87" y="11.5"/><text x="115" y="6.5" class="bl">Thinuna</text><text x="115" y="11" class="bl">MS-6CT*7</text><text x="115" y="15.5" class="bl">高品质天花喇叭</text><text x="143" y="13" class="zn">二层走廊</text></g>

<g transform="translate(287,744.7)"><rect class="b" width="168" height="47.5"/><text x="2" y="6.5" class="r">电金QC室</text><rect class="b" x="16.5" y="12.3" width="42.3" height="22.8"/><text x="37.6" y="24.7" class="s">四通道无线会议系统</text><use href="#m" x="65" y="9"/><use href="#m" x="88.7" y="9"/><use href="#m" x="112.4" y="9"/><use href="#m" x="136.1" y="9"/><g class="s"><text x="80" y="39">无线呼叫话</text><text x="80" y="42.5">筒</text><text x="103.7" y="39">无线呼叫话</text><text x="103.7" y="42.5">筒</text><text x="127.4" y="39">无线呼叫话</text><text x="127.4" y="42.5">筒</text><text x="151.1" y="39">无线呼叫话</text><text x="151.1" y="42.5">筒</text></g></g>
<g transform="translate(287,836.6)"><rect class="b" width="168" height="47.5"/><text x="2" y="6.5" class="r">打磨QC室</text><rect class="b" x="16.5" y="12.3" width="42.3" height="22.8"/><text x="37.6" y="24.7" class="s">四通道无线会议系统</text><use href="#m" x="65" y="9"/><use href="#m" x="88.7" y="9"/><use href="#m" x="112.4" y="9"/><use href="#m" x="136.1" y="9"/><g class="s"><text x="80" y="39">无线呼叫话</text><text x="80" y="42.5">筒</text><text x="103.7" y="39">无线呼叫话</text><text x="103.7" y="42.5">筒</text><text x="127.4" y="39">无线呼叫话</text><text x="127.4" y="42.5">筒</text><text x="151.1" y="39">无线呼叫话</text><text x="151.1" y="42.5">筒</text></g></g>
<g transform="translate(287,933.3)"><rect class="b" width="168" height="47.5"/><text x="2" y="6.5" class="r">修理QC室</text><rect class="b" x="16.5" y="12.3" width="42.3" height="22.8"/><text x="37.6" y="24.7" class="s">四通道无线会议系统</text><use href="#m" x="65" y="9"/><use href="#m" x="88.7" y="9"/><use href="#m" x="112.4" y="9"/><use href="#m" x="136.1" y="9"/><g class="s"><text x="80" y="39">无线呼叫话</text><text x="80" y="42.5">筒</text><text x="103.7" y="39">无线呼叫话</text><text x="103.7" y="42.5">筒</text><text x="127.4" y="39">无线呼叫话</text><text x="127.4" y="42.5">筒</text><text x="151.1" y="39">无线呼叫话</text><text x="151.1" y="42.5">筒</text></g></g>
<g transform="translate(287,1029)"><rect class="b" width="168" height="47.5"/><text x="2" y="6.5" class="r">镶石QC室</text><rect class="b" x="16.5" y="12.3" width="42.3" height="22.8"/><text x="37.6" y="24.7" class="s">四通道无线会议系统</text><use href="#m" x="65" y="9"/><use href="#m" x="88.7" y="9"/><use href="#m" x="112.4" y="9"/><use href="#m" x="136.1" y="9"/><g class="s"><text x="80" y="39">无线呼叫话</text><text x="80" y="42.5">筒</text><text x="103.7" y="39">无线呼叫话</text><text x="103.7" y="42.5">筒</text><text x="127.4" y="39">无线呼叫话</text><text x="127.4" y="42.5">筒</text><text x="151.1" y="39">无线呼叫话</text><text x="151.1" y="42.5">筒</text></g></g>
<g transform="translate(287,1125)"><rect class="b" width="168" height="47.5"/><text x="2" y="6.5" class="r">执边QC室</text><rect class="b" x="16.5" y="12.3" width="42.3" height="22.8"/><text x="37.6" y="24.7" class="s">四通道无线会议系统</text><use href="#m" x="65" y="9"/><use href="#m" x="88.7" y="9"/><use href="#m" x="112.4" y="9"/><use href="#m" x="136.1" y="9"/><g class="s"><text x="80" y="39">无线呼叫话</text><text x="80" y="42.5">筒</text><text x="103.7" y="39">无线呼叫话</text><text x="103.7" y="42.5">筒</text><text x="127.4" y="39">无线呼叫话</text><text x="127.4" y="42.5">筒</text><text x="151.1" y="39">无线呼叫话</text><text x="151.1" y="42.5">筒</text></g></g>
<g transform="translate(287,1221)"><rect class="b" width="168" height="47.5"/><text x="2" y="6.5" class="r">抗腊QC室</text><rect class="b" x="16.5" y="12.3" width="42.3" height="22.8"/><text x="37.6" y="24.7" class="s">四通道无线会议系统</text><use href="#m" x="65" y="9"/><use href="#m" x="88.7" y="9"/><use href="#m" x="112.4" y="9"/><use href="#m" x="136.1" y="9"/><g class="s"><text x="80" y="39">无线呼叫话</text><text x="80" y="42.5">筒</text><text x="103.7" y="39">无线呼叫话</text><text x="103.7" y="42.5">筒</text><text x="127.4" y="39">无线呼叫话</text><text x="127.4" y="42.5">筒</text><text x="151.1" y="39">无线呼叫话</text><text x="151.1" y="42.5">筒</text></g></g>
<g transform="translate(287,1317)"><rect class="b" width="168" height="47.5"/><text x="2" y="6.5" class="r">喷砂QC室</text><rect class="b" x="16.5" y="12.3" width="42.3" height="22.8"/><text x="37.6" y="24.7" class="s">四通道无线会议系统</text><use href="#m" x="65" y="9"/><use href="#m" x="88.7" y="9"/><use href="#m" x="112.4" y="9"/><use href="#m" x="136.1" y="9"/><g class="s"><text x="80" y="39">无线呼叫话</text><text x="80" y="42.5">筒</text><text x="103.7" y="39">无线呼叫话</text><text x="103.7" y="42.5">筒</text><text x="127.4" y="39">无线呼叫话</text><text x="127.4" y="42.5">筒</text><text x="151.1" y="39">无线呼叫话</text><text x="151.1" y="42.5">筒</text></g></g>
<path class="ar" d="M323,757V726.1M323,848.9V818.3M323,945.6V914.4M323,1041.3V1010.8M323,1137.3V1106.9M323,1233.3V1203M323,1329.3V1299.1M328,1469V1428.5"/>

<rect class="b" x="297" y="1469" width="62" height="29"/><text x="328" y="1484.5" class="s">无线接收机</text>
<use href="#hm" x="252" y="1466"/><use href="#wv" x="268" y="1466"/>
<text x="256" y="1498" class="s">无线话筒</text>

<rect class="b" x="131" y="998.4" width="45" height="17.5"/><text x="153.5" y="1004" class="s k">Thinuna</text><text x="153.5" y="1008" class="s">DP-6256A</text><text x="153.5" y="1012" class="s">节目定时器</text>
<text x="151.5" y="1041" class="lg">220VAC电源供应</text>
<path class="ar2" d="M147.7,1057V1046.5M156.6,1057V1046.5M165,1057V1046.5"/>
<rect class="b" x="93.4" y="1056" width="27" height="14"/><text x="107" y="1064.5" class="s">32U机柜</text>
<rect class="b" x="143.6" y="1057" width="26.6" height="14"/><text x="156.9" y="1061.5" class="s k">Thinuna</text><text x="156.9" y="1065" class="s">SP-6216*2</text><text x="156.9" y="1068.5" class="s">电源时序器</text>
<use href="#vc" x="119.3" y="1084.6"/><text x="154" y="1091.5" class="lg">音量控制器</text>
<path class="ar" d="M101,1110.4H128"/><text x="154" y="1112" class="lg">话筒线</text>
<path class="l" d="M101,1128H128"/><text x="154" y="1130" class="lg">喇叭线</text>

<!-- ================= PANEL 4 ================= -->
<text x="555" y="687.5" class="pt">一期三层广播广播系统</text>
<rect class="b" x="711" y="693.9" width="43.4" height="388.8"/>
<text x="732.7" y="887" style="font-size:6.5px">Thinuna</text><text x="732.7" y="896" style="font-size:6.5px">RMX-6404</text><text x="732.7" y="905" style="font-size:6.5px">编组调音台</text>
<path class="ar" d="M754.4,708H815.5M754.4,803.8H815.5M754.4,899.7H817.6M673,730H711M673,785.5H711M699,864.5H711M841.4,912.2V925.7M834,750.6V720.1M834,846.9V816"/>

<g transform="translate(815.5,696.6)"><rect class="b" width="43.5" height="22.8"/><text x="21.7" y="7.5" class="s k">Thinuna</text><text x="21.7" y="11.5" class="s">TA-180D</text><text x="21.7" y="15.5" class="s">180W合并式功放</text><path class="l" d="M43.5,11.4H65M74,11.4H87"/><use href="#vc" x="65" y="6.9"/><use href="#spk" x="87" y="11.4"/><text x="54" y="15.5" class="s k">Thinuna</text><text x="54" y="19.5" class="s">VC-260A</text><text x="54" y="23.5" class="s">60W音量控制器</text><text x="115" y="6.5" class="bl">Thinuna</text><text x="115" y="11" class="bl">MS-6CT*2</text><text x="115" y="15.5" class="bl">高品质天花喇叭</text></g>
<g transform="translate(815.5,792.5)"><rect class="b" width="43.5" height="22.8"/><text x="21.7" y="7.5" class="s k">Thinuna</text><text x="21.7" y="11.5" class="s">TA-180D</text><text x="21.7" y="15.5" class="s">180W合并式功放</text><path class="l" d="M43.5,11.3H65M74,11.3H87"/><use href="#vc" x="65" y="6.8"/><use href="#spk" x="87" y="11.3"/><text x="54" y="15.5" class="s k">Thinuna</text><text x="54" y="19.5" class="s">VC-260A</text><text x="54" y="23.5" class="s">60W音量控制器</text><text x="115" y="6.5" class="bl">Thinuna</text><text x="115" y="11" class="bl">MS-6CT*5</text><text x="115" y="15.5" class="bl">高品质天花喇叭</text></g>
<g transform="translate(817.6,888.2)"><rect class="b" width="45.4" height="24.5"/><text x="22.7" y="8" class="s k">Thinuna</text><text x="22.7" y="12" class="s">TA-180D</text><text x="22.7" y="16" class="s">180W合并式功放</text><path class="l" d="M45.4,11.8H69.4M78.4,11.8H92.4"/><use href="#vc" x="69.4" y="7.3"/><use href="#spk" x="92.4" y="11.8"/><text x="58" y="16.5" class="s k">Thinuna</text><text x="58" y="20.5" class="s">VC-260A*4</text><text x="58" y="24.5" class="s">60W音量控制器</text><text x="121.4" y="7" class="bl">Thinuna</text><text x="121.4" y="11.5" class="bl">MS-6CT*14</text><text x="121.4" y="16" class="bl">高品质天花喇叭</text><text x="151.4" y="16" class="zn" style="font-size:6.5px">三层办公室</text></g>
<g transform="translate(817.6,925.7)"><rect class="b" width="45.4" height="23.9"/><text x="22.7" y="8" class="s k">Thinuna</text><text x="22.7" y="12" class="s">TA-180D</text><text x="22.7" y="16" class="s">180W合并式功放</text><path class="l" d="M45.4,11.3H92.4"/><use href="#spk" x="92.4" y="11.3"/><text x="121.4" y="7" class="bl">Thinuna</text><text x="121.4" y="11.5" class="bl">MS-6CT*8</text><text x="121.4" y="16" class="bl">高品质天花喇叭</text><text x="151.4" y="15" class="zn" style="font-size:6.5px">三层走廊</text></g>

<g transform="translate(798.4,738)"><rect class="b" width="168" height="47.7"/><text x="5" y="8" class="r">QC室</text><rect class="b" x="16.1" y="12.6" width="43" height="23"/><text x="37.6" y="25" class="s">四通道无线会议系统</text><use href="#m" x="65.7" y="9"/><use href="#m" x="89.5" y="9"/><use href="#m" x="113.3" y="9"/><use href="#m" x="137.1" y="9"/><g class="s"><text x="80" y="39.5">无线呼叫话</text><text x="80" y="43">筒</text><text x="103.8" y="39.5">无线呼叫话</text><text x="103.8" y="43">筒</text><text x="127.6" y="39.5">无线呼叫话</text><text x="127.6" y="43">筒</text><text x="151.4" y="39.5">无线呼叫话</text><text x="151.4" y="43">筒</text></g></g>
<g transform="translate(798.4,834.3)"><rect class="b" width="168" height="47.7"/><text x="4" y="8" class="r">QC室</text><rect class="b" x="16.1" y="12.6" width="43" height="23"/><text x="37.6" y="25" class="s">四通道无线会议系统</text><use href="#m" x="65.7" y="9"/><use href="#m" x="89.5" y="9"/><use href="#m" x="113.3" y="9"/><use href="#m" x="137.1" y="9"/><g class="s"><text x="80" y="39.5">无线呼叫话</text><text x="80" y="43">筒</text><text x="103.8" y="39.5">无线呼叫话</text><text x="103.8" y="43">筒</text><text x="127.6" y="39.5">无线呼叫话</text><text x="127.6" y="43">筒</text><text x="151.4" y="39.5">无线呼叫话</text><text x="151.4" y="43">筒</text></g></g>

<rect class="b" x="628.3" y="721.4" width="44.7" height="17.4"/><text x="650.6" y="727" class="s k">Thinuna</text><text x="650.6" y="731" class="s">DP-6256A</text><text x="650.6" y="735" class="s">节目定时器</text>
<rect class="b" x="628.3" y="776.8" width="44.7" height="17.5"/><text x="650.6" y="782.5" class="s k">Thinuna</text><text x="650.6" y="786.5" class="s">CD-6201A</text><text x="650.6" y="790.5" class="s">CD播放机</text>
<rect class="b" x="676.5" y="835" width="22.5" height="65"/><text x="687.7" y="866" class="s">无线接收机</text>
<use href="#hm" x="629" y="854"/><use href="#wv" x="642" y="853"/>
<text x="633" y="886.5" class="s">无线话筒</text>
<text x="679" y="917" class="lg">220VAC电源供应</text>
<path class="ar2" d="M675,931.6V921M684,931.6V921M693,931.6V921"/>
<rect class="b" x="620.6" y="930.7" width="27" height="14.3"/><text x="634.1" y="939" class="s">32U机柜</text>
<rect class="b" x="670.5" y="931.6" width="26.5" height="14.4"/><text x="683.7" y="936" class="s k">Thinuna</text><text x="683.7" y="939.6" class="s">SP-6216*2</text><text x="683.7" y="943.2" class="s">电源时序器</text>
<use href="#vc" x="646" y="965"/><text x="683" y="972" class="lg">音量控制器</text>
<path class="ar" d="M630,991H658"/><text x="683" y="993" class="lg">话筒线</text>
<path class="l" d="M630,1009H658"/><text x="683" y="1011" class="lg">喇叭线</text>

<!-- ================= PANEL 5 ================= -->
<text x="555" y="1164.5" class="pt">行政楼广播系统</text>
<rect class="b" x="712.8" y="1219" width="43.7" height="262.4"/>
<text x="734.6" y="1352" style="font-size:6.3px">前置放大器</text>
<path class="ar" d="M756.5,1232.5H817.6M756.5,1278.8H817.6M756.5,1328.5H817.6M756.5,1366H817.6M756.5,1412.6H817.6M675,1255.2H712.8M675,1311H712.8M701,1389.5H712.8"/>
<g transform="translate(817.6,1221.5)"><rect class="b" width="43" height="23"/><text x="21.5" y="7.5" class="s k">Thinuna</text><text x="21.5" y="11.5" class="s">TA-180D</text><text x="21.5" y="15.5" class="s">180W合并式功放</text><path class="l" d="M43,11H65M74,11H86.7"/><use href="#vc" x="65" y="6.5"/><use href="#spk" x="86.7" y="11"/><text x="54.4" y="15" class="s k">Thinuna</text><text x="54.4" y="19" class="s">VC-260A</text><text x="54.4" y="23" class="s">60W音量控制器</text><text x="114.6" y="6" class="bl">Thinuna</text><text x="114.6" y="10.5" class="bl">MS-6CT*2</text><text x="114.6" y="15" class="bl">高品质天花喇叭</text></g>
<g transform="translate(817.6,1267.8)"><rect class="b" width="43" height="23"/><text x="21.5" y="7.5" class="s k">Thinuna</text><text x="21.5" y="11.5" class="s">TA-180D</text><text x="21.5" y="15.5" class="s">180W合并式功放</text><path class="l" d="M43,11H65M74,11H86.7"/><use href="#vc" x="65" y="6.5"/><use href="#spk" x="86.7" y="11"/><text x="54.4" y="15" class="s k">Thinuna</text><text x="54.4" y="19" class="s">VC-260A</text><text x="54.4" y="23" class="s">60W音量控制器</text><text x="114.6" y="6" class="bl">Thinuna</text><text x="114.6" y="10.5" class="bl">MS-6CT*5</text><text x="114.6" y="15" class="bl">高品质天花喇叭</text></g>
<g transform="translate(817.6,1317.5)"><rect class="b" width="43" height="23"/><text x="21.5" y="7.5" class="s k">Thinuna</text><text x="21.5" y="11.5" class="s">TA-180D</text><text x="21.5" y="15.5" class="s">180W合并式功放</text><path class="l" d="M43,11H65M74,11H86.7"/><use href="#vc" x="65" y="6.5"/><use href="#spk" x="86.7" y="11"/><text x="54.4" y="15" class="s k">Thinuna</text><text x="54.4" y="19" class="s">VC-260A</text><text x="54.4" y="23" class="s">60W音量控制器</text><text x="114.6" y="6" class="bl">Thinuna</text><text x="114.6" y="10.5" class="bl">MS-6CT*5</text><text x="114.6" y="15" class="bl">高品质天花喇叭</text></g>
<g transform="translate(817.6,1355)"><rect class="b" width="43" height="23"/><text x="21.5" y="7.5" class="s k">Thinuna</text><text x="21.5" y="11.5" class="s">TA-180D</text><text x="21.5" y="15.5" class="s">180W合并式功放</text><path class="l" d="M43,11H65M74,11H86.7"/><use href="#vc" x="65" y="6.5"/><use href="#spk" x="86.7" y="11"/><text x="54.4" y="15" class="s k">Thinuna</text><text x="54.4" y="19" class="s">VC-260A</text><text x="54.4" y="23" class="s">60W音量控制器</text><text x="114.6" y="6" class="bl">Thinuna</text><text x="114.6" y="10.5" class="bl">MS-6CT*2</text><text x="114.6" y="15" class="bl">高品质天花喇叭</text></g>
<g transform="translate(817.6,1401.6)"><rect class="b" width="43" height="23"/><text x="21.5" y="7.5" class="s k">Thinuna</text><text x="21.5" y="11.5" class="s">TA-180D</text><text x="21.5" y="15.5" class="s">180W合并式功放</text><path class="l" d="M43,11H65M74,11H86.7"/><use href="#vc" x="65" y="6.5"/><use href="#spk" x="86.7" y="11"/><text x="54.4" y="15" class="s k">Thinuna</text><text x="54.4" y="19" class="s">VC-260A</text><text x="54.4" y="23" class="s">60W音量控制器</text><text x="114.6" y="6" class="bl">Thinuna</text><text x="114.6" y="10.5" class="bl">MS-6CT*5</text><text x="114.6" y="15" class="bl">高品质天花喇叭</text></g>

<rect class="b" x="630" y="1246.8" width="45" height="17.2"/><text x="652.5" y="1252.3" class="s k">Thinuna</text><text x="652.5" y="1256.3" class="s">DP-6256A</text><text x="652.5" y="1260.3" class="s">节目定时器</text>
<rect class="b" x="630" y="1302" width="45" height="18"/><text x="652.5" y="1307.8" class="s k">Thinuna</text><text x="652.5" y="1311.8" class="s">CD-6201A</text><text x="652.5" y="1315.8" class="s">CD播放机</text>
<rect class="b" x="678" y="1360.4" width="23" height="64.6"/><text x="689.5" y="1392" class="s">无线接收机</text>
<use href="#hm" x="631" y="1379.4"/><use href="#wv" x="643" y="1378"/>
<text x="635" y="1412" class="s">无线话筒</text>
<use href="#vc" x="890.3" y="1437"/><text x="925.3" y="1444.5" class="lg">音量控制器</text>
<path class="ar" d="M872,1463.2H899"/><text x="925.3" y="1465" class="lg">话筒线</text>
<path class="l" d="M872,1481H899"/><text x="925.3" y="1483" class="lg">喇叭线</text>
<text x="831" y="1452" class="lg">220VAC电源供应</text>
<path class="ar2" d="M827.4,1467V1456.4M836,1467V1456.4M845,1467V1456.4"/>
<rect class="b" x="772.5" y="1466" width="27" height="14.5"/><text x="786" y="1474.5" class="s">32U机柜</text>
<rect class="b" x="822" y="1467" width="27" height="14.5"/><text x="835.5" y="1471.5" class="s k">Thinuna</text><text x="835.5" y="1475" class="s">SP-6216*2</text><text x="835.5" y="1478.5" class="s">电源时序器</text>
</svg>
</body></html>
